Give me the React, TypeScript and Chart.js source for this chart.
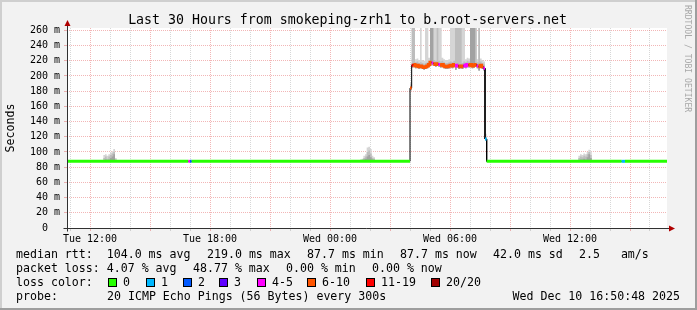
import React, { useEffect, useRef } from 'react';
import { Chart, registerables } from 'chart.js';

Chart.register(...registerables);

const W = 697;
const H = 310;
const MONO = '"DejaVu Sans Mono", "Liberation Mono", monospace';

// ---- axes (x in hours since Tue 00:00) ----
const X_MIN = 10.85;
const X_MAX = 40.85;
const STEP_H = 5 / 60; // one RRD step = 5 minutes
const Y_MAX = 263;

const xLabelHours = [12, 18, 24, 30, 36];
const xLabelTexts = ['Tue 12:00', 'Tue 18:00', 'Wed 00:00', 'Wed 06:00', 'Wed 12:00'];

const lossColors = ['#26ff00', '#00b8ff', '#0059ff', '#5e00ff', '#ff00ff', '#ff5500', '#ff0000', '#a10000'];
const lossLabels = ['0', '1', '2', '3', '4-5', '6-10', '11-19', '20/20'];

// ---- median rtt (ms) ----
const baseMedian = 87.7;

// high-latency episode starting Wed 04:00, one value per 5-min step
const highStart = 28.0;
const highMedian = [184, 214, 215, 213, 214, 212, 213, 212, 211, 212, 213, 215, 218, 217, 216, 215, 216, 215, 214, 215, 213, 212, 212, 213, 214, 213, 215, 213, 214, 212, 213, 212, 214, 213, 215, 214, 215, 213, 214, 215, 213, 212, 214, 212, 210, 117];
const highLoss = [5, 6, 5, 5, 5, 5, 5, 5, 5, 5, 5, 5, 5, 4, 5, 5, 5, 4, 5, 5, 5, 5, 5, 5, 5, 5, 5, 4, 4, 5, 5, 5, 4, 4, 4, 5, 5, 5, 5, 5, 4, 5, 5, 5, 4, 1];
const highSmokeMin = [181, 211, 212, 210, 211, 209, 210, 209, 208, 209, 210, 212, 215, 214, 213, 212, 213, 212, 211, 212, 210, 209, 209, 210, 211, 210, 212, 208, 211, 209, 210, 209, 211, 210, 212, 211, 212, 210, 211, 212, 210, 207, 211, 209, 207, 115];
const highSmokeDark = [186, 216, 217, 215, 216, 214, 215, 214, 213, 214, 215, 217, 300, 300, 218, 217, 218, 217, 216, 217, 215, 214, 214, 215, 216, 215, 217, 215, 216, 214, 215, 214, 216, 215, 217, 216, 300, 300, 300, 217, 215, 214, 216, 214, 212, 118];
const highSmokeMid = [189, 300, 300, 218, 219, 217, 218, 217, 216, 217, 218, 220, 300, 300, 221, 220, 300, 220, 219, 220, 218, 217, 217, 218, 219, 218, 220, 300, 300, 300, 300, 217, 219, 218, 220, 219, 300, 300, 300, 300, 218, 300, 219, 217, 215, 120];
const highSmokeMax = [192, 300, 300, 222, 223, 221, 300, 221, 220, 300, 300, 224, 300, 300, 300, 300, 300, 300, 300, 224, 222, 221, 221, 222, 300, 300, 300, 300, 300, 300, 300, 300, 300, 222, 224, 223, 300, 300, 300, 300, 222, 300, 223, 221, 219, 124];

// small smoke clusters around the baseline
const smokeAStart = 12.667;
const smokeAMax = [96, 97, 95, 97, 99, 101, 104, 92];
const smokeAMid = [92, 94, 91, 94, 96, 98, 100, 90];
const smokeADark = [89, 90, 89, 90, 92, 94, 97, 89];

const smokeBStart = 25.417;
const smokeBMax = [89, 90, 91, 95, 97, 106, 107, 104, 95, 93];
const smokeBMid = [88, 89, 90, 92, 94, 100, 102, 98, 92, 91];
const smokeBDark = [88, 88, 89, 90, 91, 94, 96, 93, 90, 89];

const smokeCStart = 36.417;
const smokeCMax = [95, 97, 96, 98, 97, 100, 103, 101];
const smokeCMid = [92, 94, 93, 95, 94, 97, 100, 96];
const smokeCDark = [89, 90, 90, 91, 90, 93, 97, 92];

// short packet-loss blips on the baseline
const blip1Start = 16.917;
const blip1Loss = [4, 2];
const blip2Start = 38.583;
const blip2Loss = [1, 1];

type Step = { t0: number; t1: number; med: number; loss: number; min: number; dark: number; mid: number; max: number };
type Ep = { start: number; med: number[]; loss: number[]; min: number[]; dark: number[]; mid: number[]; max: number[] };

function lowSmoke(start: number, dark: number[], mid: number[], max: number[]): Ep {
  return {
    start,
    med: max.map(() => baseMedian),
    loss: max.map(() => 0),
    min: max.map(() => baseMedian - 1),
    dark,
    mid,
    max,
  };
}
function blip(start: number, loss: number[]): Ep {
  const flat = loss.map(() => baseMedian);
  return { start, med: flat, loss, min: flat, dark: flat, mid: flat, max: flat };
}

function buildSteps(): Step[] {
  const eps: Ep[] = [
    lowSmoke(smokeAStart, smokeADark, smokeAMid, smokeAMax),
    blip(blip1Start, blip1Loss),
    lowSmoke(smokeBStart, smokeBDark, smokeBMid, smokeBMax),
    { start: highStart, med: highMedian, loss: highLoss, min: highSmokeMin, dark: highSmokeDark, mid: highSmokeMid, max: highSmokeMax },
    lowSmoke(smokeCStart, smokeCDark, smokeCMid, smokeCMax),
    blip(blip2Start, blip2Loss),
  ].sort((a, b) => a.start - b.start);
  const out: Step[] = [];
  const flat = (t0: number, t1: number): Step => ({ t0, t1, med: baseMedian, loss: 0, min: baseMedian, dark: baseMedian, mid: baseMedian, max: baseMedian });
  let t = X_MIN;
  for (const ep of eps) {
    if (ep.start > t) out.push(flat(t, ep.start));
    ep.med.forEach((m, i) => {
      out.push({
        t0: ep.start + i * STEP_H,
        t1: ep.start + (i + 1) * STEP_H,
        med: m,
        loss: ep.loss[i],
        min: ep.min[i],
        dark: ep.dark[i],
        mid: ep.mid[i],
        max: ep.max[i],
      });
    });
    t = ep.start + ep.med.length * STEP_H;
  }
  if (t < X_MAX) out.push(flat(t, X_MAX));
  return out;
}

const MAJOR = 'rgba(225, 80, 80, 0.42)';
const MINOR = 'rgba(150, 150, 150, 0.38)';

const legendLines: [string, number][][] = [
  [['median rtt:  104.0 ms avg', 16], ['219.0 ms max', 207], ['87.7 ms min', 307], ['87.7 ms now', 400], ['42.0 ms sd', 493], ['2.5   am/s', 579]],
  [['packet loss: 4.07 % avg', 16], ['48.77 % max', 193], ['0.00 % min', 286], ['0.00 % now', 372]],
];
const lossBoxX = [108, 146, 183, 219, 257, 307, 366, 431];

const rrdPlugin = {
  id: 'rrdFrame',
  beforeDraw(chart: any) {
    const { ctx, chartArea: a } = chart;
    ctx.save();
    ctx.fillStyle = '#f2f2f2';
    ctx.fillRect(0, 0, W, H);
    ctx.fillStyle = '#cfcfcf';
    ctx.fillRect(0, 0, W, 2);
    ctx.fillRect(0, 0, 2, H);
    ctx.fillStyle = '#9e9e9e';
    ctx.fillRect(0, H - 2, W, 2);
    ctx.fillRect(W - 2, 0, 2, H);
    ctx.fillStyle = '#ffffff';
    ctx.fillRect(a.left, a.top, a.right - a.left, a.bottom - a.top);
    ctx.restore();
  },
  afterDraw(chart: any) {
    const { ctx, chartArea: a } = chart;
    ctx.save();
    // axes
    const ax = Math.round(a.left) + 0.5;
    const ay = Math.round(a.bottom) + 0.5;
    ctx.strokeStyle = '#303030';
    ctx.lineWidth = 1;
    ctx.beginPath();
    ctx.moveTo(ax, ay + 3);
    ctx.lineTo(ax, a.top - 4);
    ctx.moveTo(ax - 4, ay);
    ctx.lineTo(a.right + 3, ay);
    ctx.stroke();
    ctx.fillStyle = '#b00000';
    ctx.beginPath();
    ctx.moveTo(ax, a.top - 8);
    ctx.lineTo(ax - 3, a.top - 2);
    ctx.lineTo(ax + 3, a.top - 2);
    ctx.closePath();
    ctx.fill();
    ctx.beginPath();
    ctx.moveTo(a.right + 8, ay);
    ctx.lineTo(a.right + 2, ay - 3);
    ctx.lineTo(a.right + 2, ay + 3);
    ctx.closePath();
    ctx.fill();

    // title
    ctx.fillStyle = '#000';
    ctx.textBaseline = 'alphabetic';
    ctx.textAlign = 'center';
    ctx.font = `13.25px ${MONO}`;
    ctx.fillText('Last 30 Hours from smokeping-zrh1 to b.root-servers.net', 347.5, 24);

    // y title
    ctx.font = `11.6px ${MONO}`;
    ctx.save();
    ctx.translate(14, (a.top + a.bottom) / 2);
    ctx.rotate(-Math.PI / 2);
    ctx.textAlign = 'center';
    ctx.fillText('Seconds', 0, 0);
    ctx.restore();

    // watermark
    ctx.save();
    ctx.fillStyle = '#a8a8a8';
    ctx.font = `8.1px ${MONO}`;
    ctx.translate(685, 5);
    ctx.rotate(Math.PI / 2);
    ctx.textAlign = 'left';
    ctx.fillText('RRDTOOL / TOBI OETIKER', 0, 0);
    ctx.restore();

    // legend
    ctx.textAlign = 'left';
    ctx.font = `11.6px ${MONO}`;
    legendLines.forEach((line, li) => {
      line.forEach(([txt, x]) => ctx.fillText(txt, x, 258 + li * 14));
    });
    ctx.fillText('loss color:', 16, 286);
    lossLabels.forEach((lab, i) => {
      const bx = lossBoxX[i];
      ctx.fillStyle = lossColors[i];
      ctx.fillRect(bx, 278, 8, 8);
      ctx.strokeStyle = '#000';
      ctx.strokeRect(bx + 0.5, 278.5, 8, 8);
      ctx.fillStyle = '#000';
      ctx.fillText(lab, bx + 15, 286);
    });
    ctx.fillText('probe:', 16, 300);
    ctx.fillText('20 ICMP Echo Pings (56 Bytes) every 300s', 107, 300);
    ctx.textAlign = 'right';
    ctx.fillText('Wed Dec 10 16:50:48 2025', 680, 300);
    ctx.restore();
  },
};

export default function App() {
  const ref = useRef<HTMLCanvasElement>(null);

  useEffect(() => {
    const steps = buildSteps();
    const pts = (key: 'med' | 'min' | 'dark' | 'mid' | 'max') =>
      steps.flatMap((s) => [
        { x: s.t0, y: s[key] },
        { x: s.t1, y: s[key] },
      ]);

    const hourTicks: number[] = [];
    for (let h = Math.ceil(X_MIN); h <= X_MAX; h++) hourTicks.push(h);
    const yTicks: number[] = [];
    for (let v = 0; v <= 260; v += 10) yTicks.push(v);

    const clear = 'rgba(0,0,0,0)';
    const smoke = (data: any[], color: string, order: number) => ({
      data,
      fill: { target: 5 },
      backgroundColor: color,
      borderColor: clear,
      borderWidth: 0,
      pointRadius: 0,
      order,
    });

    const chart = new Chart(ref.current as HTMLCanvasElement, {
      type: 'line',
      data: {
        datasets: [
          {
            data: pts('med'),
            borderWidth: 3,
            borderColor: lossColors[0],
            borderCapStyle: 'butt',
            borderJoinStyle: 'miter',
            pointRadius: 0,
            fill: false,
            order: 0,
            segment: {
              borderColor: (c: any) => {
                const k = c.p0DataIndex;
                const i = k >> 1;
                if (k % 2 === 0) return lossColors[steps[i].loss];
                const nx = steps[i + 1];
                return nx && nx.loss === steps[i].loss ? lossColors[steps[i].loss] : clear;
              },
            },
          } as any,
          { data: pts('med'), borderWidth: 1, borderColor: '#000000', pointRadius: 0, fill: false, order: 1 },
          smoke(pts('dark'), '#a2a2a2', 2),
          smoke(pts('mid'), '#bdbdbd', 3),
          smoke(pts('max'), '#d5d5d5', 4),
          { data: pts('min'), borderWidth: 0, borderColor: clear, pointRadius: 0, fill: false, order: 5 },
        ],
      },
      options: {
        responsive: false,
        animation: false,
        devicePixelRatio: 1,
        layout: { padding: { left: 0, top: 28, right: 30, bottom: 62 } },
        plugins: { legend: { display: false }, title: { display: false }, tooltip: { enabled: false } },
        elements: { point: { radius: 0 }, line: { tension: 0 } },
        scales: {
          x: {
            type: 'linear',
            min: X_MIN,
            max: X_MAX,
            afterBuildTicks: (s: any) => {
              s.ticks = hourTicks.map((v) => ({ value: v }));
            },
            afterFit: (s: any) => {
              s.height = 20;
            },
            ticks: {
              autoSkip: false,
              maxRotation: 0,
              padding: 2,
              color: '#000',
              font: { family: MONO, size: 10 },
              callback: (v: any) => {
                const i = xLabelHours.indexOf(Number(v));
                return i >= 0 ? xLabelTexts[i] : '';
              },
            },
            grid: {
              color: (c: any) => (c.tick && c.tick.value % 3 === 0 ? MAJOR : MINOR),
              tickColor: (c: any) => (c.tick && c.tick.value % 3 === 0 ? MAJOR : MINOR),
              tickLength: 3,
              lineWidth: 1,
              tickBorderDash: [],
            } as any,
            border: { display: false, dash: [1, 1] },
          },
          y: {
            type: 'linear',
            min: 0,
            max: Y_MAX,
            afterBuildTicks: (s: any) => {
              s.ticks = yTicks.map((v) => ({ value: v }));
            },
            afterFit: (s: any) => {
              s.width = 67;
            },
            ticks: {
              padding: 4,
              color: '#000',
              font: { family: MONO, size: 10 },
              callback: (v: any) => {
                const n = Number(v);
                if (n % 20 !== 0) return '';
                return n === 0 ? '  0  ' : `${n} m`;
              },
            },
            grid: {
              color: (c: any) => (c.tick && c.tick.value % 20 === 0 ? MAJOR : MINOR),
              tickColor: (c: any) => (c.tick && c.tick.value % 20 === 0 ? MAJOR : MINOR),
              tickLength: 3,
              lineWidth: 1,
              tickBorderDash: [],
            } as any,
            border: { display: false, dash: [1, 1] },
          },
        },
      } as any,
      plugins: [rrdPlugin],
    });
    return () => chart.destroy();
  }, []);

  return (
    <div style={{ position: 'fixed', left: 0, top: 0, width: W, height: H }}>
      <canvas ref={ref} width={W} height={H} style={{ display: 'block', width: W, height: H }} />
    </div>
  );
}
